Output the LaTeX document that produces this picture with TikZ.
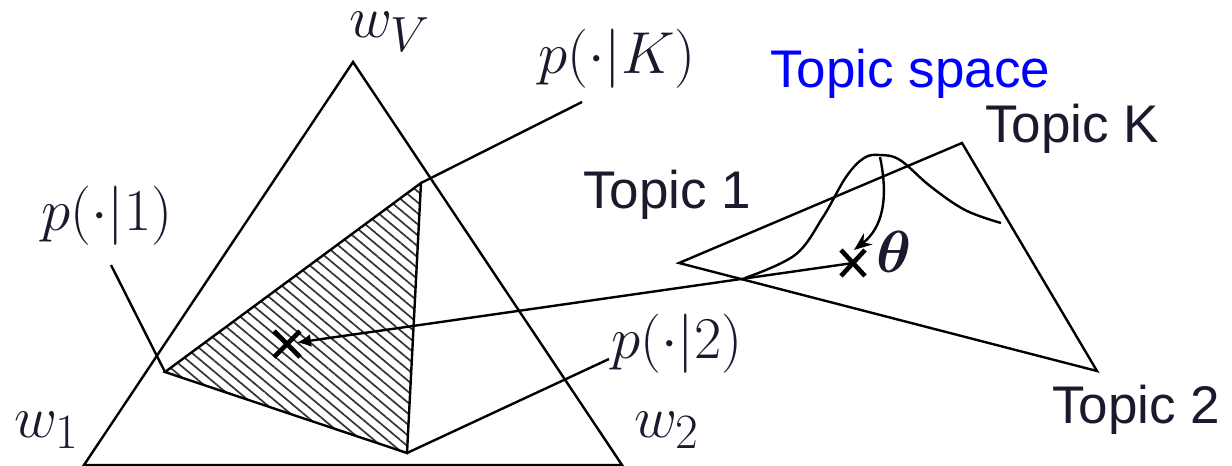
\documentclass[tikz,border=0pt]{standalone}
\usepackage{amsmath}
\usepackage{amssymb}
\usepackage{bm}
\usepackage{fontspec}
\newfontfamily\topicfont{Liberation Sans}
\usetikzlibrary{arrows.meta,calc,patterns.meta}
\definecolor{labelink}{RGB}{26,26,46}
\newcommand{\mlab}[1]{\scalebox{1.19}{$#1$}}

\begin{document}
\begin{tikzpicture}[
    x=0.5pt, y=-0.5pt,
    edge/.style={line width=1.2pt, black},
    hatched/.style={pattern={Lines[angle=-40, distance=4.2pt, line width=0.85pt]}, pattern color=black!80},
    mathlabel/.style={inner sep=0pt, anchor=base, text=labelink, font=\Huge},
    topiclabel/.style={inner sep=0pt, anchor=base west, text=labelink, font=\fontsize{26.5}{30}\selectfont\topicfont},
    crossmark/.style={line width=2.3pt, line cap=butt},
    arrow/.style={-{Latex[length=7pt, width=6.5pt]}, line width=1.2pt},
    curvearrow/.style={-{Stealth[length=9pt, width=7pt]}, line width=1.2pt}
]
\useasboundingbox (0,0) rectangle (1232,466);

% word simplex
\coordinate (w1c) at (84,465);
\coordinate (w2c) at (622,465);
\coordinate (wVc) at (353,62);
% topic distributions
\coordinate (p1) at (165,372);
\coordinate (pK) at (421,183);
\coordinate (p2) at (407,453);
% topic simplex
\coordinate (t1) at (679,263);
\coordinate (tK) at (962,143);
\coordinate (t2) at (1097,371);
% points
\coordinate (mix)   at (287,344);
\coordinate (theta) at (853,263);
\coordinate (peak)  at (880,157);

\fill[hatched] (p1) -- (pK) -- (p2) -- cycle;
\draw[edge] (w1c) -- (wVc) -- (w2c) -- cycle;
\draw[edge] (p1) -- (pK) -- (p2) -- cycle;

% leader lines to the labels
\draw[edge] (p1) -- (111,265);
\draw[edge] (pK) -- (582,102);
\draw[edge] (p2) -- (609,359);

\draw[edge] (t1) -- (tK) -- (t2) -- cycle;

% density over the topic simplex
\draw[edge] plot[smooth, tension=0.6] coordinates {
    (745,278) (795,255) (823,217) (846,177) (864,158) (880,155)
    (900,160) (930,186) (965,210) (1001,223)};

\draw[curvearrow] (peak) .. controls (889,200) and (882,228) .. ($(theta)+(1,-13)$);

\draw[arrow, shorten >=5pt] (theta) -- (mix);

% crosses
\draw[crossmark] ($(mix)+(-13,-13)$) -- ($(mix)+(13,13)$);
\draw[crossmark] ($(mix)+(-13,13)$) -- ($(mix)+(13,-13)$);
\draw[crossmark] ($(theta)+(-12,-13)$) -- ($(theta)+(12,13)$);
\draw[crossmark] ($(theta)+(-12,13)$) -- ($(theta)+(12,-13)$);

% labels
\node[mathlabel] (lwV) at (390,38)  {\mlab{w_V}};
\node[mathlabel] (lw1) at (47,437)  {\mlab{w_1}};
\node[mathlabel] (lw2) at (667,437) {\mlab{w_2}};
\node[mathlabel] (lp1) at (107,230) {\mlab{p(\cdot|1)}};
\node[mathlabel] (lpK) at (617,73)  {\mlab{p(\cdot|K)}};
\node[mathlabel] (lp2) at (677,358) {\mlab{p(\cdot|2)}};
\node[mathlabel] (ltheta) at (894,272) {\mlab{\bm{\theta}}};

\node[topiclabel, text=blue] (space) at (770,87)  {Topic space};
\node[topiclabel] (lt1) at (583,208)  {Topic 1};
\node[topiclabel] (ltK) at (985,142)  {Topic K};
\node[topiclabel] (lt2) at (1052,423) {Topic 2};
\end{tikzpicture}
\end{document}
